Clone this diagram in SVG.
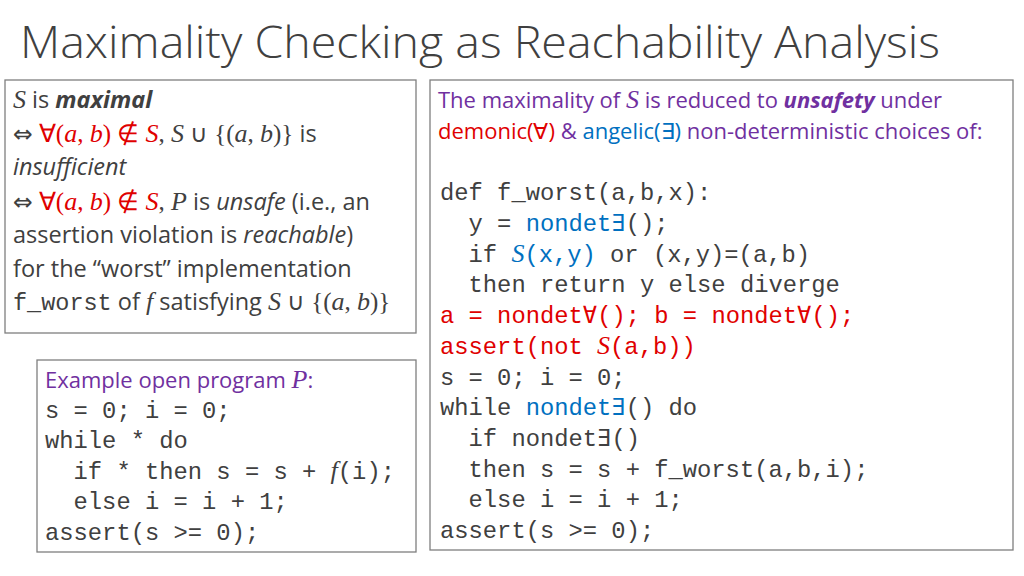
<svg xmlns="http://www.w3.org/2000/svg" width="1024" height="576" viewBox="0 0 1024 576">
<style>
.box{fill:#fff;stroke:#7f7f7f;stroke-width:1.3}
.t{font-family:"Open Sans","Noto Sans",sans-serif;font-size:22px;fill:#404040}
.l{font-size:23.5px}
.m{font-family:"Liberation Mono","DejaVu Sans Mono",monospace;font-size:23.8px;fill:#404040;white-space:pre}
.mi{font-family:"Liberation Serif",serif;font-style:italic;font-size:26px}
.s{font-family:"Liberation Serif",serif;font-size:25px}
.d{font-family:"DejaVu Sans",sans-serif}
.r{fill:#e00000}.b{fill:#0070c0}.p{fill:#7030a0}
</style>
<rect width="1024" height="576" fill="#fff"/>
<text x="20" y="58" font-family="Open Sans,sans-serif" font-weight="300" font-size="44" fill="#404040" textLength="920" lengthAdjust="spacingAndGlyphs">Maximality Checking as Reachability Analysis</text>
<g id="def-box">
<rect class="box" x="5" y="80" width="411" height="253"/>
<text class="t l" x="13" y="108"><tspan class="mi">S</tspan> is <tspan font-weight="bold" font-style="italic">maximal</tspan></text>
<text class="t l" x="13" y="142"><tspan class="d">⇔</tspan> <tspan class="r"><tspan class="s">∀(</tspan><tspan class="mi">a</tspan><tspan class="s">, </tspan><tspan class="mi">b</tspan><tspan class="s">) ∉ </tspan><tspan class="mi">S</tspan></tspan><tspan class="s">, </tspan><tspan class="mi">S</tspan> ∪ <tspan class="s">{(</tspan><tspan class="mi">a</tspan><tspan class="s">, </tspan><tspan class="mi">b</tspan><tspan class="s">)}</tspan> is</text>
<text class="t l" x="13" y="175" font-style="italic">insufficient</text>
<text class="t l" x="13" y="210"><tspan class="d">⇔</tspan> <tspan class="r"><tspan class="s">∀(</tspan><tspan class="mi">a</tspan><tspan class="s">, </tspan><tspan class="mi">b</tspan><tspan class="s">) ∉ </tspan><tspan class="mi">S</tspan></tspan><tspan class="s">, </tspan><tspan class="mi">P</tspan> is <tspan font-style="italic">unsafe</tspan> (i.e., an</text>
<text class="t l" x="13" y="243">assertion violation is <tspan font-style="italic">reachable</tspan>)</text>
<text class="t l" x="13" y="277">for the “worst” implementation</text>
<text class="t l" x="13" y="310"><tspan font-family="Liberation Mono,monospace">f_worst</tspan> of <tspan class="mi">f</tspan> satisfying <tspan class="mi">S</tspan> ∪ <tspan class="s">{(</tspan><tspan class="mi">a</tspan><tspan class="s">, </tspan><tspan class="mi">b</tspan><tspan class="s">)}</tspan></text>
</g>
<g id="example-box">
<rect class="box" x="37" y="360" width="379" height="192"/>
<text class="t p" x="45" y="388">Example open program <tspan class="mi">P</tspan>:</text>
<text class="m" x="45" y="418">s = 0; i = 0;</text>
<text class="m" x="45" y="448">while * do</text>
<text class="m" x="45" y="479">  if * then s = s + <tspan class="mi">f</tspan>(i);</text>
<text class="m" x="45" y="509">  else i = i + 1;</text>
<text class="m" x="45" y="540">assert(s &gt;= 0);</text>
</g>
<g id="reduction-box">
<rect class="box" x="430" y="80" width="583" height="470"/>
<text class="t p" x="438" y="108">The maximality of <tspan class="mi">S</tspan> is reduced to <tspan font-weight="bold" font-style="italic">unsafety</tspan> under</text>
<text class="t" x="438" y="139"><tspan class="r">demonic(∀)</tspan><tspan class="p"> &amp; </tspan><tspan class="b">angelic(∃)</tspan><tspan class="p"> non-deterministic choices of:</tspan></text>
<text class="m" x="440" y="200">def f_worst(a,b,x):</text>
<text class="m" x="440" y="231">  y = <tspan class="b">nondet∃</tspan>();</text>
<text class="m" x="440" y="262">  if <tspan class="b"><tspan class="mi">S</tspan>(x,y)</tspan> or (x,y)=(a,b)</text>
<text class="m" x="440" y="292">  then return y else diverge</text>
<text class="m r" x="440" y="323">a = nondet∀(); b = nondet∀();</text>
<text class="m r" x="440" y="354">assert(not <tspan class="mi">S</tspan>(a,b))</text>
<text class="m" x="440" y="385">s = 0; i = 0;</text>
<text class="m" x="440" y="415">while <tspan class="b">nondet∃</tspan>() do</text>
<text class="m" x="440" y="446">  if nondet∃()</text>
<text class="m" x="440" y="477">  then s = s + f_worst(a,b,i);</text>
<text class="m" x="440" y="507">  else i = i + 1;</text>
<text class="m" x="440" y="538">assert(s &gt;= 0);</text>
</g>
<g id="connectors"/>
</svg>
